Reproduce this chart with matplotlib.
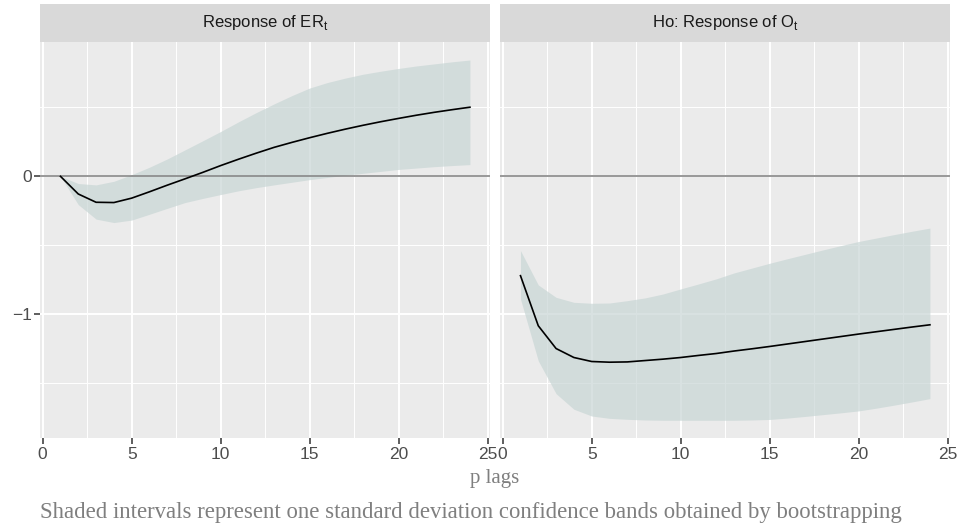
import numpy as np
import matplotlib.pyplot as plt
from matplotlib.ticker import FixedLocator

# ── Impulse responses ────────────────────────────────────────────────────────
lags = np.arange(1, 25)

er_irf = [0.000, -0.128, -0.188, -0.190, -0.158, -0.112, -0.064, -0.018, 0.029, 0.078,
          0.124, 0.168, 0.210, 0.246, 0.280, 0.312, 0.342, 0.370, 0.396, 0.420,
          0.443, 0.464, 0.483, 0.501]
er_low = [0.000, -0.205, -0.310, -0.335, -0.317, -0.275, -0.232, -0.190, -0.160, -0.132,
          -0.105, -0.082, -0.062, -0.043, -0.024, -0.008, 0.008, 0.022, 0.036, 0.050,
          0.060, 0.070, 0.078, 0.085]
er_high = [0.000, -0.052, -0.062, -0.036, 0.012, 0.066, 0.126, 0.192, 0.258, 0.325,
           0.395, 0.462, 0.525, 0.585, 0.640, 0.680, 0.712, 0.740, 0.762, 0.782,
           0.800, 0.815, 0.830, 0.843]

o_irf = [-0.720, -1.083, -1.248, -1.313, -1.342, -1.347, -1.345, -1.335, -1.325, -1.313,
         -1.298, -1.284, -1.266, -1.250, -1.233, -1.215, -1.197, -1.179, -1.161, -1.143,
         -1.126, -1.109, -1.092, -1.076]
o_low = [-0.889, -1.337, -1.575, -1.688, -1.737, -1.754, -1.761, -1.766, -1.768, -1.768,
         -1.768, -1.768, -1.768, -1.766, -1.762, -1.752, -1.740, -1.727, -1.714, -1.700,
         -1.680, -1.658, -1.635, -1.611]
o_high = [-0.538, -0.787, -0.877, -0.913, -0.920, -0.918, -0.901, -0.881, -0.853, -0.816,
          -0.780, -0.743, -0.700, -0.665, -0.630, -0.597, -0.565, -0.533, -0.502, -0.472,
          -0.447, -0.422, -0.398, -0.375]

titles = ['Response of ER$_{\\mathregular{t}}$', 'Ho: Response of O$_{\\mathregular{t}}$']
panels = [(er_irf, er_low, er_high), (o_irf, o_low, o_high)]

x_major = [0, 5, 10, 15, 20, 25]
x_minor = [2.5, 7.5, 12.5, 17.5, 22.5]
y_major = [-1, 0]
y_minor = [-1.5, -0.5, 0.5]

caption = ('Shaded intervals represent one standard deviation confidence bands '
           'obtained by bootstrapping')

# ── ggplot-ish look ──────────────────────────────────────────────────────────
plt.rcParams['font.family'] = ['Liberation Sans', 'DejaVu Sans']
plt.rcParams['axes.unicode_minus'] = True

W, H = 961, 529
fig = plt.figure(figsize=(W / 100, H / 100), dpi=100)

# shared limits with ggplot's 5% expansion
lo = min(min(er_low), min(o_low))
hi = max(max(er_high), max(o_high))
pad = 0.05 * (hi - lo)
ylim = (lo - pad, hi + pad)
xpad = 0.05 * (lags[-1] - lags[0])
xlim = (lags[0] - xpad, lags[-1] + xpad)

panel_left = [40, 500]
panel_w = 450.4
top, bottom = 42, 438.3
strip_top = 4

for i, (left, (irf, low, high)) in enumerate(zip(panel_left, panels)):
    ax = fig.add_axes([left / W, 1 - bottom / H, panel_w / W, (bottom - top) / H])
    ax.set_facecolor('#EBEBEB')
    for s in ax.spines.values():
        s.set_visible(False)

    ax.xaxis.set_major_locator(FixedLocator(x_major))
    ax.xaxis.set_minor_locator(FixedLocator(x_minor))
    ax.yaxis.set_major_locator(FixedLocator(y_major))
    ax.yaxis.set_minor_locator(FixedLocator(y_minor))
    ax.grid(which='major', color='white', lw=1.4)
    ax.grid(which='minor', color='white', lw=0.7)
    ax.set_axisbelow(True)

    ax.fill_between(lags, low, high, color='#C8D6D5', alpha=0.7, lw=0)
    ax.axhline(0, color='#878787', lw=1.2)
    ax.plot(lags, irf, color='black', lw=1.2)

    ax.set_xlim(*xlim)
    ax.set_ylim(*ylim)
    ax.tick_params(which='major', length=4, width=1.1, color='#333333',
                   labelsize=12.5, labelcolor='#4D4D4D', pad=2)
    ax.tick_params(which='minor', length=0)
    if i == 1:
        ax.tick_params(axis='y', which='both', left=False, labelleft=False)

    # facet strip
    sax = fig.add_axes([left / W, 1 - top / H, panel_w / W, (top - strip_top) / H])
    sax.set_facecolor('#D9D9D9')
    sax.set_xticks([])
    sax.set_yticks([])
    for s in sax.spines.values():
        s.set_visible(False)
    sax.text(0.5, 0.5, titles[i], ha='center', va='center', fontsize=12,
             color='#1A1A1A', transform=sax.transAxes)

fig.text(495 / W, 1 - 483 / H, 'p lags', ha='center', va='baseline',
         fontsize=15, color='#7F7F7F', family='Liberation Serif')
fig.text(40 / W, 1 - 518 / H, caption, ha='left', va='baseline',
         fontsize=16.4, color='#7F7F7F', family='Liberation Serif')

fig.savefig('out.png', dpi=100)
